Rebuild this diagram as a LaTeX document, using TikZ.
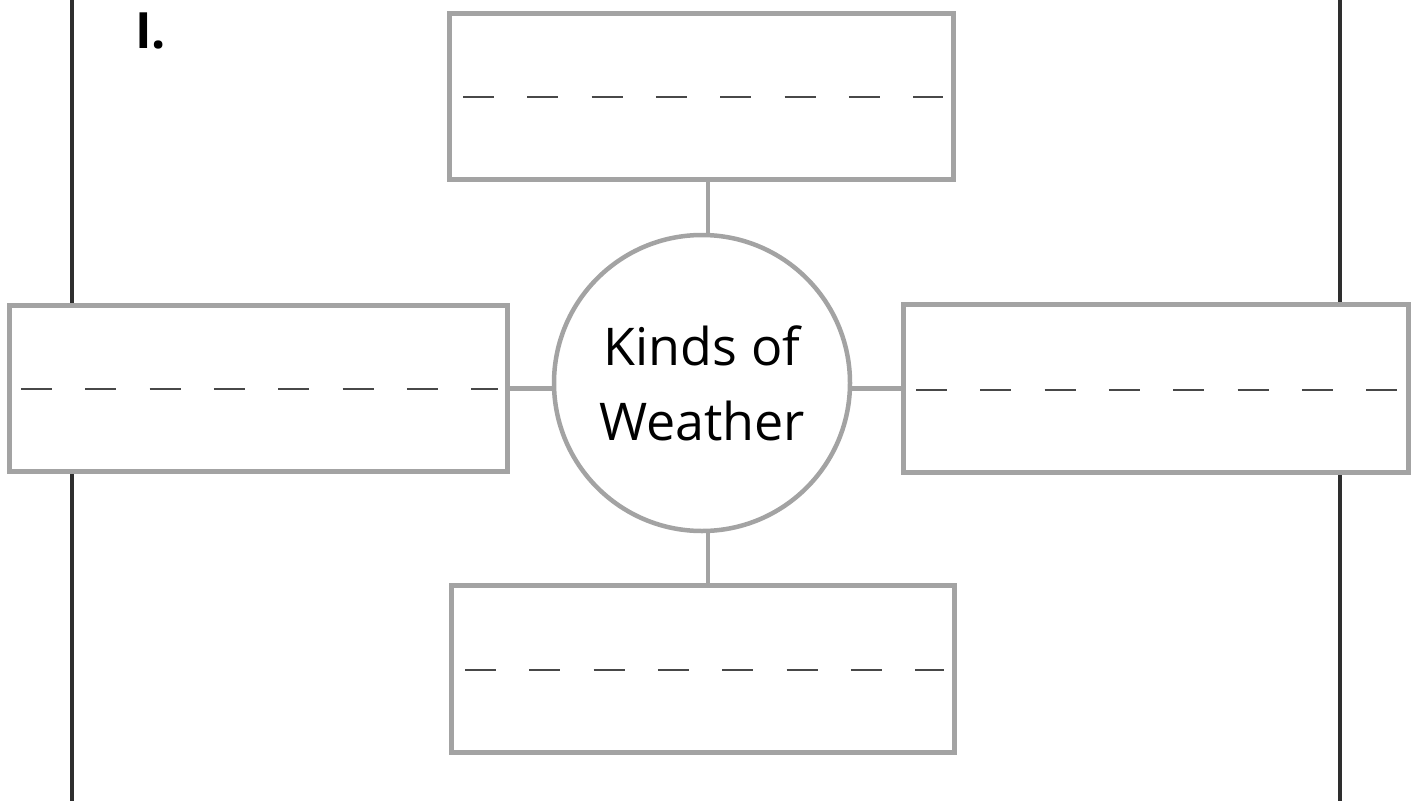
\documentclass[tikz,border=0pt]{standalone}
\usepackage{fontspec}
\setmainfont{Open Sans}
\usetikzlibrary{backgrounds}
\definecolor{boxgray}{HTML}{A3A3A3}
\definecolor{dashgray}{HTML}{484848}
\definecolor{rulegray}{HTML}{2E2E2E}
\begin{document}
\begin{tikzpicture}[x=1pt,y=-1pt,
  answerbox/.style={draw=boxgray, line width=5pt, fill=white, rectangle, inner sep=0pt},
  hub/.style={draw=boxgray, line width=4.5pt, fill=white, circle, inner sep=0pt, minimum size=296pt,
    align=center, font=\fontsize{52}{75}\selectfont},
  link/.style={draw=boxgray, line width=4.5pt},
  writeline/.style={draw=dashgray, line width=2.6pt, dash pattern=on 31pt off 33.3pt},
  margin/.style={draw=rulegray, line width=3.3pt}]
\useasboundingbox (0,0) rectangle (1417,801);
% boxes
\node[answerbox, minimum width=504pt, minimum height=166pt] (top) at (701,96) {};
\node[answerbox, minimum width=498pt, minimum height=166pt] (left) at (258,388) {};
\node[answerbox, minimum width=505pt, minimum height=168pt] (right) at (1155.5,388) {};
\node[answerbox, minimum width=503pt, minimum height=167pt] (bot) at (702.5,668.5) {};
\node[hub] (hub) at (702,383) {Kinds of\\Weather};
% connectors
\begin{scope}[on background layer]
\coordinate (tc) at (708,0);
\draw[link] (top.south -| tc) -- (bot.north -| tc);
\coordinate (hc) at (0,388.5);
\draw[link] (left.east |- hc) -- (right.west |- hc);
% margin rules
\coordinate (lt) at (72,0);
\coordinate (lb) at (72,801);
\coordinate (rt) at (1340,0);
\coordinate (rb) at (1340,801);
\draw[margin] (lt) -- (lt |- left.north);
\draw[margin] (left.south -| lb) -- (lb);
\draw[margin] (rt) -- (rt |- right.north);
\draw[margin] (right.south -| rb) -- (rb);
\end{scope}
% writing lines
\coordinate (tl1) at (463,97); \coordinate (tl2) at (943,97);
\draw[writeline] (tl1) -- (tl2);
\coordinate (ll1) at (21,389); \coordinate (ll2) at (498,389);
\draw[writeline] (ll1) -- (ll2);
\coordinate (rl1) at (916,390); \coordinate (rl2) at (1398,390);
\draw[writeline] (rl1) -- (rl2);
\coordinate (bl1) at (465,670); \coordinate (bl2) at (944,670);
\draw[writeline] (bl1) -- (bl2);
% label
\node[anchor=base west, inner sep=0pt, font=\fontsize{50}{50}\selectfont\bfseries] (num) at (135,48) {I.};
\end{tikzpicture}
\end{document}
